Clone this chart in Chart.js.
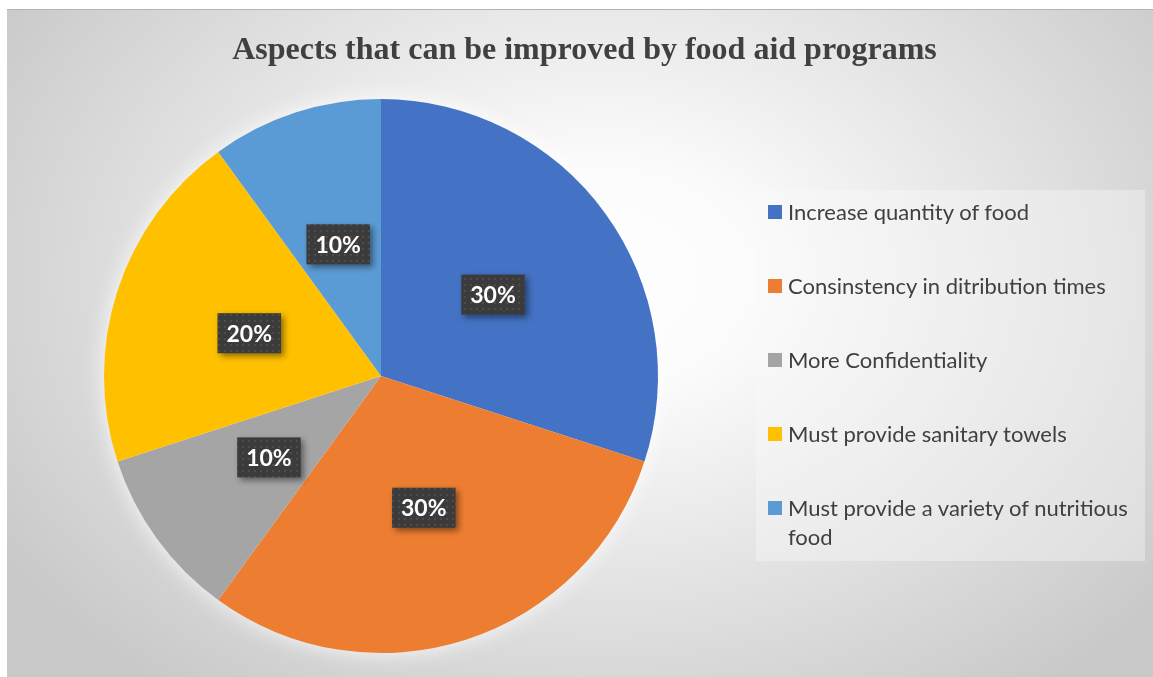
<!DOCTYPE html>
<html>
<head>
<meta charset="utf-8">
<script src="https://cdn.jsdelivr.net/npm/chart.js@4/dist/chart.umd.min.js"></script>
<style>
  html, body { margin: 0; padding: 0; background: #ffffff; }
  #stage { position: relative; width: 1153px; height: 677px; overflow: hidden; }
  #panel {
    position: absolute; left: 7px; top: 9px; width: 1146px; height: 667px;
    border-top: 1px solid #b4b4b4;
    background: radial-gradient(ellipse 62% 78% at 52% 40%, #ffffff 0%, #fbfbfb 22%, #e6e6e6 55%, #c9c9c9 100%);
  }
  #chart { position: absolute; left: 0; top: 0; }
  #title {
    position: absolute; left: 0; top: 28px; width: 1169px; text-align: center;
    font-family: "Liberation Serif", "Times New Roman", serif; font-weight: bold;
    font-size: 32px; line-height: 40px; color: #404040; white-space: nowrap;
  }
  #legend {
    position: absolute; left: 756px; top: 190px; width: 389px; height: 371px;
    background: rgba(250, 250, 250, 0.38); box-sizing: border-box;
    padding: 7px 0 0 12px;
    font-family: Lato, "Open Sans", sans-serif; font-size: 22px; color: #404040;
  }
  .item { display: flex; align-items: flex-start; line-height: 29px; margin-bottom: 45px; }
  .swatch { width: 14px; height: 14px; flex: none; margin: 8px 6px 0 0; }
  .text { max-width: 360px; }
</style>
</head>
<body>
<div id="stage">
  <div id="panel"></div>
  <canvas id="chart" width="1153" height="677"></canvas>
  <div id="title">Aspects that can be improved by food aid programs</div>
  <div id="legend"></div>
</div>
<script>
// Responses per improvement area (percent of respondents)
const categories = [
  "Increase quantity of food",
  "Consinstency in ditribution times",
  "More Confidentiality",
  "Must provide sanitary towels",
  "Must provide a variety of nutritious food"
];
const shares = [30, 30, 10, 20, 10];
const sliceColors = ["#4472C4", "#ED7D31", "#A5A5A5", "#FFC000", "#5B9BD5"];

// Small dotted fill used behind the percentage labels
function dottedPattern(ctx) {
  const c = document.createElement("canvas");
  c.width = 6; c.height = 6;
  const g = c.getContext("2d");
  g.fillStyle = "#3b3b3b"; g.fillRect(0, 0, 6, 6);
  g.fillStyle = "#4c4c4c"; g.fillRect(2, 2, 2, 2);
  return ctx.createPattern(c, "repeat");
}

// Soft white halo around the pie
const pieGlow = {
  id: "pieGlow",
  beforeDatasetsDraw(chart) {
    const arc = chart.getDatasetMeta(0).data[0];
    if (!arc) return;
    const { x, y, outerRadius } = arc.getProps(["x", "y", "outerRadius"], true);
    const ctx = chart.ctx;
    ctx.save();
    ctx.shadowColor = "rgba(255,255,255,0.9)";
    ctx.shadowBlur = 22;
    ctx.fillStyle = "#ffffff";
    ctx.beginPath();
    ctx.arc(x, y, outerRadius - 1, 0, Math.PI * 2);
    ctx.fill();
    ctx.restore();
  }
};

// Percentage call-outs placed halfway out along each slice's bisector
const sliceLabels = {
  id: "sliceLabels",
  afterDatasetsDraw(chart) {
    const ctx = chart.ctx;
    const data = chart.data.datasets[0].data;
    const total = data.reduce((a, b) => a + b, 0);
    const fill = dottedPattern(ctx);
    chart.getDatasetMeta(0).data.forEach((arc, i) => {
      const p = arc.getProps(["x", "y", "startAngle", "endAngle", "outerRadius"], true);
      const mid = (p.startAngle + p.endAngle) / 2;
      const r = p.outerRadius * 0.5;
      const cx = p.x + Math.cos(mid) * r;
      const cy = p.y + Math.sin(mid) * r;
      const text = Math.round(data[i] / total * 100) + "%";
      ctx.save();
      ctx.font = "bold 23px Lato, 'Open Sans', sans-serif";
      const w = ctx.measureText(text).width + 18;
      const h = 40;
      ctx.shadowColor = "rgba(0,0,0,0.45)";
      ctx.shadowBlur = 6;
      ctx.shadowOffsetX = 3;
      ctx.shadowOffsetY = 3;
      ctx.fillStyle = fill;
      ctx.fillRect(cx - w / 2, cy - h / 2, w, h);
      ctx.shadowColor = "transparent";
      ctx.fillStyle = "#ffffff";
      ctx.textAlign = "center";
      ctx.textBaseline = "middle";
      ctx.fillText(text, cx, cy + 1);
      ctx.restore();
    });
  }
};

function buildLegend(chart) {
  const box = document.getElementById("legend");
  box.innerHTML = "";
  chart.data.labels.forEach((label, i) => {
    const item = document.createElement("div");
    item.className = "item";
    const sw = document.createElement("span");
    sw.className = "swatch";
    sw.style.background = chart.data.datasets[0].backgroundColor[i];
    const tx = document.createElement("span");
    tx.className = "text";
    tx.textContent = label;
    item.appendChild(sw);
    item.appendChild(tx);
    box.appendChild(item);
  });
}

function draw() {
  const chart = new Chart(document.getElementById("chart"), {
    type: "pie",
    data: {
      labels: categories,
      datasets: [{
        data: shares,
        backgroundColor: sliceColors,
        borderWidth: 0
      }]
    },
    options: {
      responsive: false,
      animation: false,
      devicePixelRatio: 1,
      layout: { padding: { left: 104, right: 495, top: 99, bottom: 24 } },
      plugins: {
        legend: { display: false },
        title: { display: false },
        tooltip: { enabled: false }
      }
    },
    plugins: [pieGlow, sliceLabels]
  });
  buildLegend(chart);
}

if (document.fonts && document.fonts.load) {
  document.fonts.load("bold 23px Lato").then(draw, draw);
} else {
  draw();
}
</script>
</body>
</html>
